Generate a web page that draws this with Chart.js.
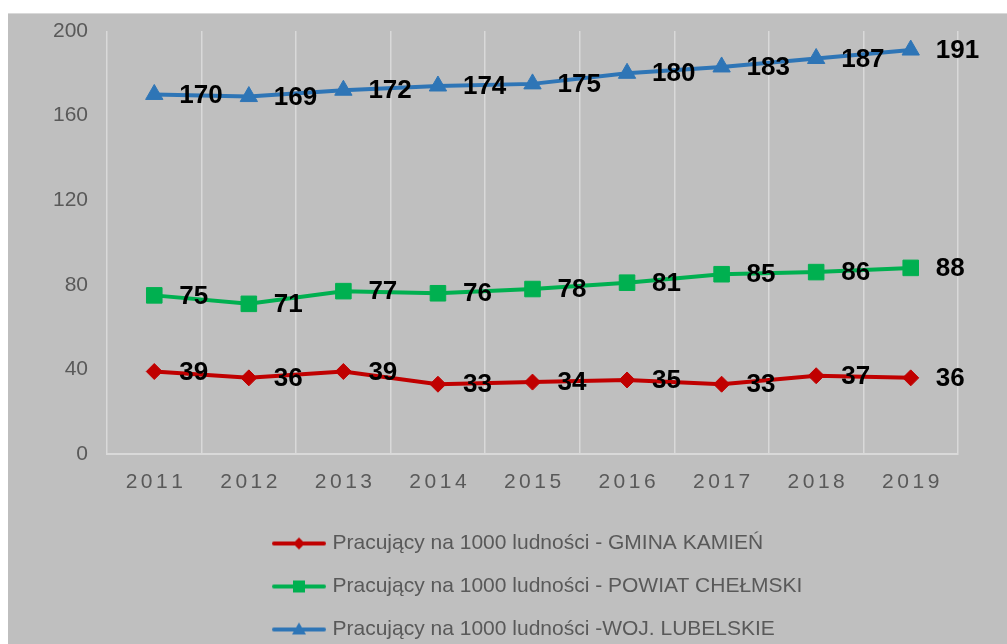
<!DOCTYPE html>
<html>
<head>
<meta charset="utf-8">
<script src="https://cdn.jsdelivr.net/npm/chart.js@4/dist/chart.umd.min.js"></script>
<style>
  html, body { margin: 0; background: #fff; }
  #wrap {
    position: absolute; left: 8px; top: 13px;
    width: 999px; height: 634px;
    background: #bfbfbf; border-top: 1px solid #d9d9d9; box-sizing: border-box;
  }
</style>
</head>
<body>
<div id="wrap"><canvas id="chart"></canvas></div>
<script>
const years = ['2011', '2012', '2013', '2014', '2015', '2016', '2017', '2018', '2019'];
const gminaKamien = [39, 36, 39, 33, 34, 35, 33, 37, 36];
const powiatChelmski = [75, 71, 77, 76, 78, 81, 85, 86, 88];
const wojLubelskie = [170, 169, 172, 174, 175, 180, 183, 187, 191];
const seriesNames = [
    'Pracujący na 1000 ludności - GMINA KAMIEŃ',
    'Pracujący na 1000 ludności - POWIAT CHEŁMSKI',
    'Pracujący na 1000 ludności -WOJ. LUBELSKIE',
];
const yMin = 0, yMax = 200, yStep = 40;

const RED = '#c00000', GREEN = '#00b050', BLUE = '#2e75b6';
const FONT = '"Liberation Sans", Arial, sans-serif';

// small line + marker picture for the legend, like the excel one
function legendIcon(color, shape) {
    const c = document.createElement('canvas');
    c.width = 54;
    c.height = 20;
    const g = c.getContext('2d');
    g.strokeStyle = color;
    g.fillStyle = color;
    g.lineWidth = 4;
    g.lineCap = 'round';
    g.beginPath();
    g.moveTo(2, 10);
    g.lineTo(52, 10);
    g.stroke();
    g.beginPath();
    if (shape === 'diamond') {
        g.moveTo(27, 4); g.lineTo(33, 10); g.lineTo(27, 16); g.lineTo(21, 10);
    } else if (shape === 'square') {
        g.rect(21, 4, 12, 12);
    } else {
        g.moveTo(27, 3); g.lineTo(34, 15); g.lineTo(20, 15);
    }
    g.closePath();
    g.fill();
    return c;
}
const icons = [legendIcon(RED, 'diamond'), legendIcon(GREEN, 'square'), legendIcon(BLUE, 'triangle')];

const valueLabels = {
    id: 'valueLabels',
    afterDatasetsDraw(chart) {
        const ctx = chart.ctx;
        ctx.save();
        ctx.font = 'bold 26px ' + FONT;
        ctx.fillStyle = '#000';
        ctx.textBaseline = 'middle';
        chart.data.datasets.forEach((ds, i) => {
            chart.getDatasetMeta(i).data.forEach((pt, j) => {
                ctx.fillText(ds.data[j], pt.x + 25, pt.y + 1);
            });
        });
        ctx.restore();
    },
};

// legend rows start under each other, left of centre
const legendPlace = {
    id: 'legendPlace',
    afterLayout(chart) {
        const lg = chart.legend;
        const w = lg.right - lg.left;
        lg.left = 246;
        lg.right = lg.left + w;
        lg.top += 3;
        lg.bottom += 3;
    },
};

function series(label, data, color, style, radius) {
    return {
        label,
        data,
        borderColor: color,
        backgroundColor: color,
        borderWidth: 4,
        pointStyle: style,
        pointRadius: radius,
        pointBorderWidth: 1,
        tension: 0,
    };
}

new Chart(document.getElementById('chart'), {
    type: 'line',
    data: {
        labels: years,
        datasets: [
            series(seriesNames[0], gminaKamien, RED, 'rectRot', 8),
            series(seriesNames[1], powiatChelmski, GREEN, 'rect', 11),
            series(seriesNames[2], wojLubelskie, BLUE, 'triangle', 10),
        ],
    },
    options: {
        responsive: true,
        maintainAspectRatio: false,
        animation: false,
        events: [],
        layout: { autoPadding: false, padding: { top: 17, right: 49, left: 0, bottom: 0 } },
        scales: {
            x: {
                offset: true,
                grid: { offset: true, color: '#d9d9d9', lineWidth: 1.5, drawTicks: false },
                border: { display: true, color: '#d9d9d9', width: 2 },
                ticks: {
                    color: '#595959',
                    font: { family: FONT, size: 21 },
                    padding: 16,
                    callback(v) { return this.getLabelForValue(v).split('').join('\u200A\u200A'); },
                },
                afterFit(scale) { scale.height = 54; },
            },
            y: {
                min: yMin,
                max: yMax,
                grid: { display: false, drawTicks: false },
                border: { display: false },
                ticks: {
                    stepSize: yStep,
                    color: '#595959',
                    font: { family: FONT, size: 21 },
                    padding: 19,
                },
                afterFit(scale) {
                    scale.width = 99;
                    scale.paddingTop = 0;
                    scale.paddingBottom = 0;
                },
            },
        },
        plugins: {
            tooltip: { enabled: false },
            legend: {
                position: 'bottom',
                align: 'start',
                labels: {
                    usePointStyle: true,
                    pointStyleWidth: 46,
                    padding: 22,
                    color: '#595959',
                    font: { family: FONT, size: 21 },
                    generateLabels(chart) {
                        const items = Chart.defaults.plugins.legend.labels.generateLabels(chart);
                        items.forEach((it, i) => { it.pointStyle = icons[i]; });
                        return items;
                    },
                },
            },
        },
    },
    plugins: [valueLabels, legendPlace],
});
</script>
</body>
</html>
